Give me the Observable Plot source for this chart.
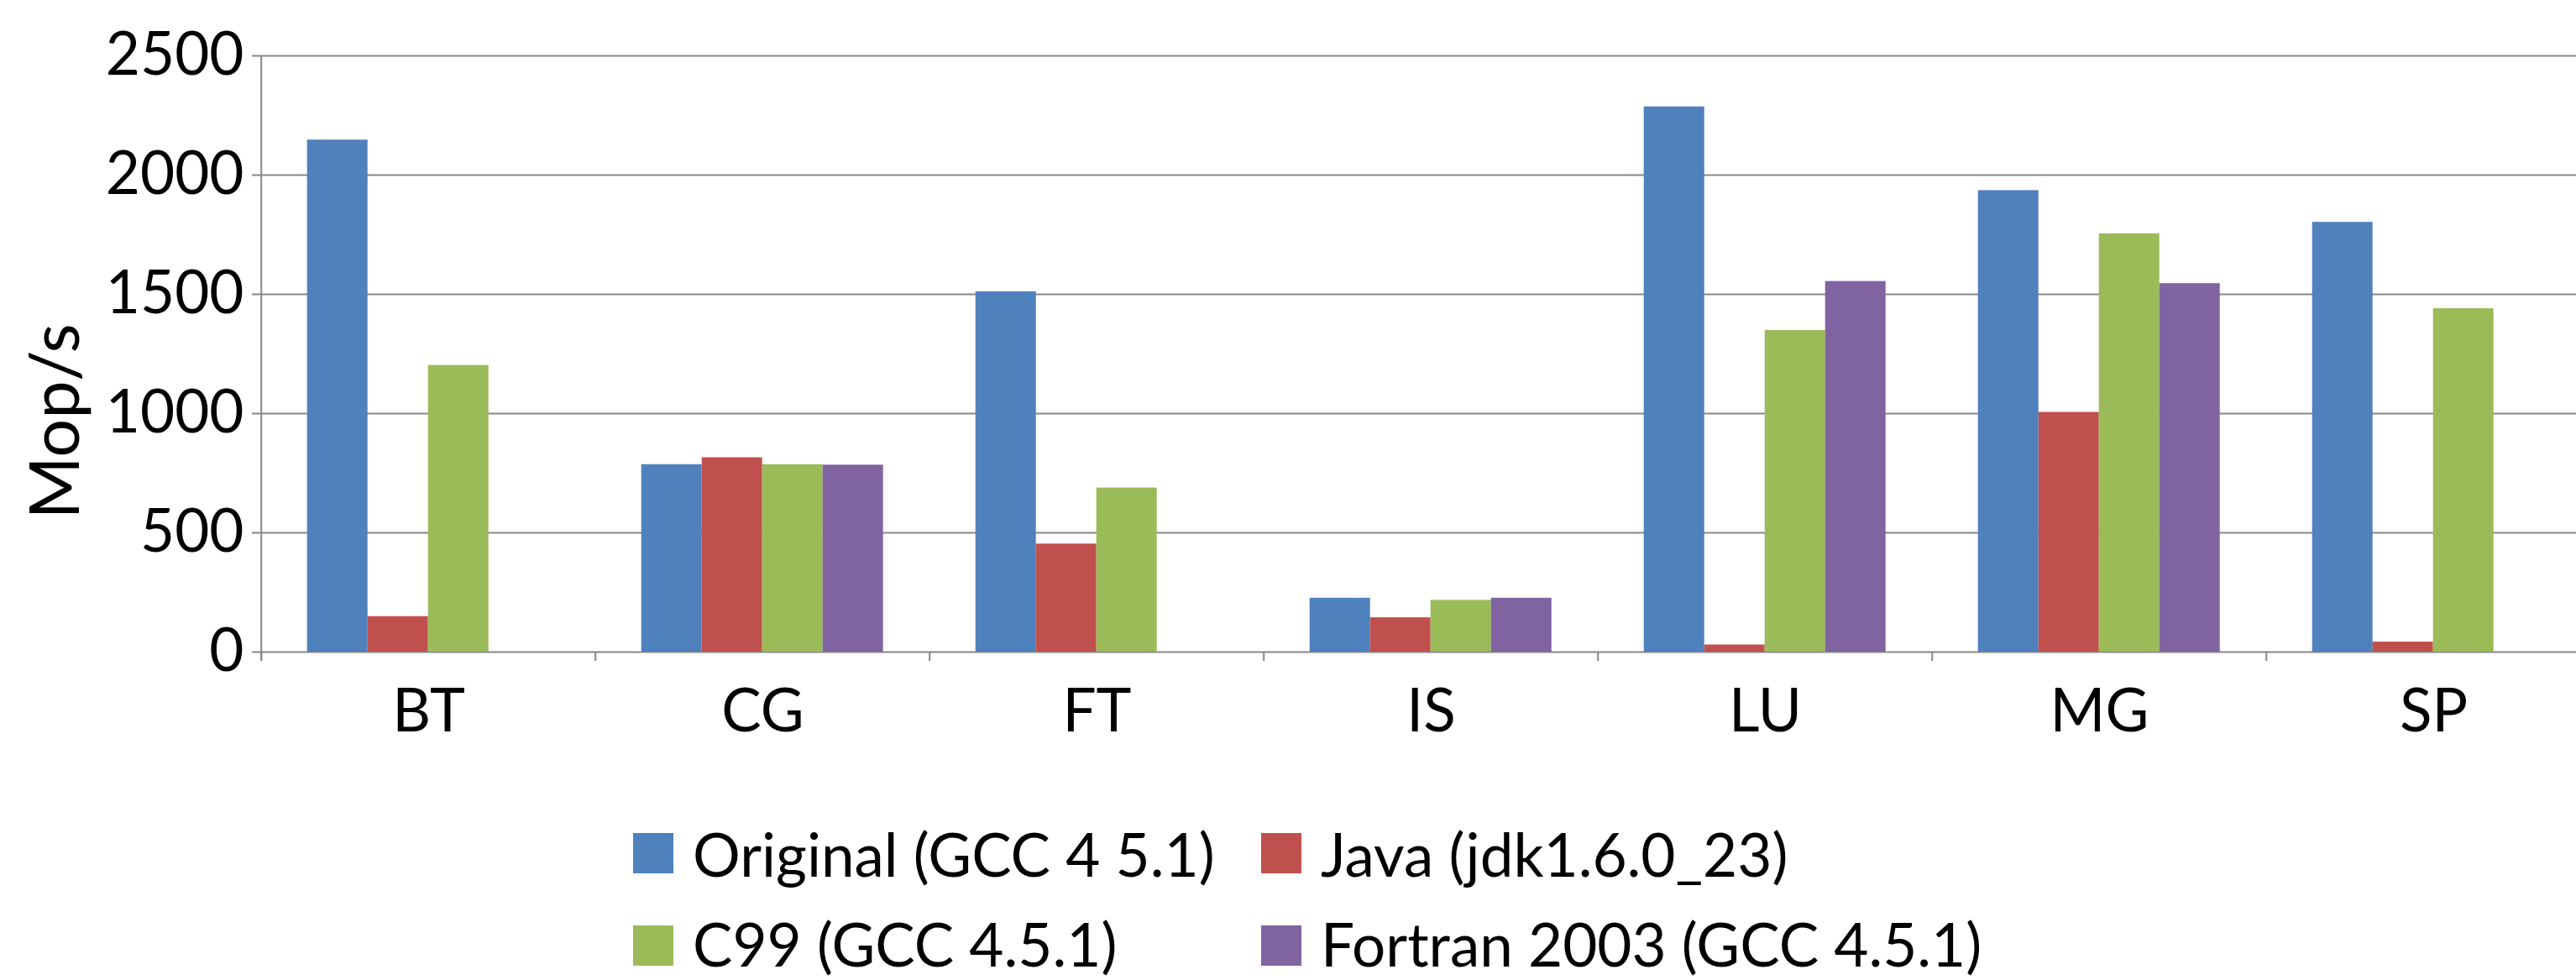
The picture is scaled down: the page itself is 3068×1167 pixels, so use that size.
<!DOCTYPE html>
<html><head><meta charset="utf-8">
<script src="https://cdn.jsdelivr.net/npm/d3@7"></script>
<script src="https://cdn.jsdelivr.net/npm/@observablehq/plot@0.6"></script>
<style>
html,body{margin:0;padding:0;background:#fff;}
#wrap{position:relative;width:3068px;height:1167px;overflow:hidden;font-family:Lato, sans-serif;color:#000;}
#ylabel{position:absolute;left:61.7px;top:502px;font-size:81px;line-height:1;white-space:nowrap;transform:translate(-50%,-50%) rotate(-90deg);}
#legend{position:relative;height:207px;}
.txt{position:absolute;font-size:71px;line-height:1;white-space:nowrap;}
.sw{position:absolute;width:48px;height:48px;}
</style></head><body>
<div id="wrap"><div id="chart"></div><div id="legend"></div><div id="ylabel">Mop/s</div></div>
<script>
const categories = ["BT", "CG", "FT", "IS", "LU", "MG", "SP"];
const series = ["Original (GCC 4 5.1)", "Java (jdk1.6.0_23)", "C99 (GCC 4.5.1)", "Fortran 2003 (GCC 4.5.1)"];
const original = [2147, 786, 1511, 226, 2286, 1935, 1802];
const java = [149, 815, 453, 144, 30, 1005, 42];
const c99 = [1202, 786, 688, 217, 1349, 1754, 1440];
const fortran = [null, 784, null, 226, 1554, 1545, null];
const colors = ["#4F81BD", "#C0504D", "#9BBB59", "#8064A2"];
const yTicks = [0, 500, 1000, 1500, 2000, 2500];

const seriesValues = [original, java, c99, fortran];
const data = [];
categories.forEach((c, i) => seriesValues.forEach((vals, j) => {
  if (vals[i] != null) data.push({bench: c, series: series[j], value: vals[i]});
}));

const W = 3068, H = 960;
const mL = 309.3, fxEnd = 3099.6;
const fxBand = (fxEnd - mL) / categories.length;
const grid = "#878787";

const chart = Plot.plot({
  width: W, height: H,
  marginTop: 66, marginBottom: 184, marginLeft: mL, marginRight: 0,
  style: {fontFamily: "Lato, sans-serif", fontSize: "71px", color: "#000", background: "#fff", overflow: "visible"},
  fx: {domain: categories, range: [mL, fxEnd], paddingInner: 0, paddingOuter: 0, axis: "bottom", tickSize: 0, tickPadding: 44, label: null},
  x: {domain: series, paddingInner: 0, paddingOuter: 0.757, axis: null},
  y: {domain: [0, 2500], label: null},
  color: {domain: series, range: colors},
  marks: [
    Plot.gridY(yTicks, {stroke: grid, strokeOpacity: 1, strokeWidth: 2}),
    Plot.axisY(yTicks, {anchor: "left", tickSize: 11, tickPadding: 10, stroke: grid, strokeWidth: 2, fill: "#000", label: null, tickFormat: "d"}),
    Plot.ruleX([0], {x: null, y1: 0, y2: 0, insetBottom: -11, dx: -fxBand / 2, stroke: grid, strokeWidth: 2}),
    Plot.ruleX([0], {x: null, y1: 2500, y2: 0, insetBottom: -11, dx: -fxBand / 2, stroke: grid, strokeWidth: 2, facetAnchor: "left"}),
    Plot.barY(data, {fx: "bench", x: "series", y: "value", fill: "series"})
  ]
});
document.getElementById("chart").appendChild(chart);

const legend = document.getElementById("legend");
const colLeft = [754, 1502], rowTop = [31.7, 141.7];
series.forEach((s, i) => {
  const col = i % 2, row = Math.floor(i / 2);
  const sw = document.createElement("div");
  sw.className = "sw";
  sw.style.left = colLeft[col] + "px";
  sw.style.top = rowTop[row] + "px";
  sw.style.background = colors[i];
  legend.appendChild(sw);
  const t = document.createElement("div");
  t.className = "txt";
  t.textContent = s;
  t.style.left = (colLeft[col] + 71) + "px";
  t.style.top = (rowTop[row] - 10.3 - (row ? 3 : 0)) + "px";
  legend.appendChild(t);
});
</script>
</body></html>
